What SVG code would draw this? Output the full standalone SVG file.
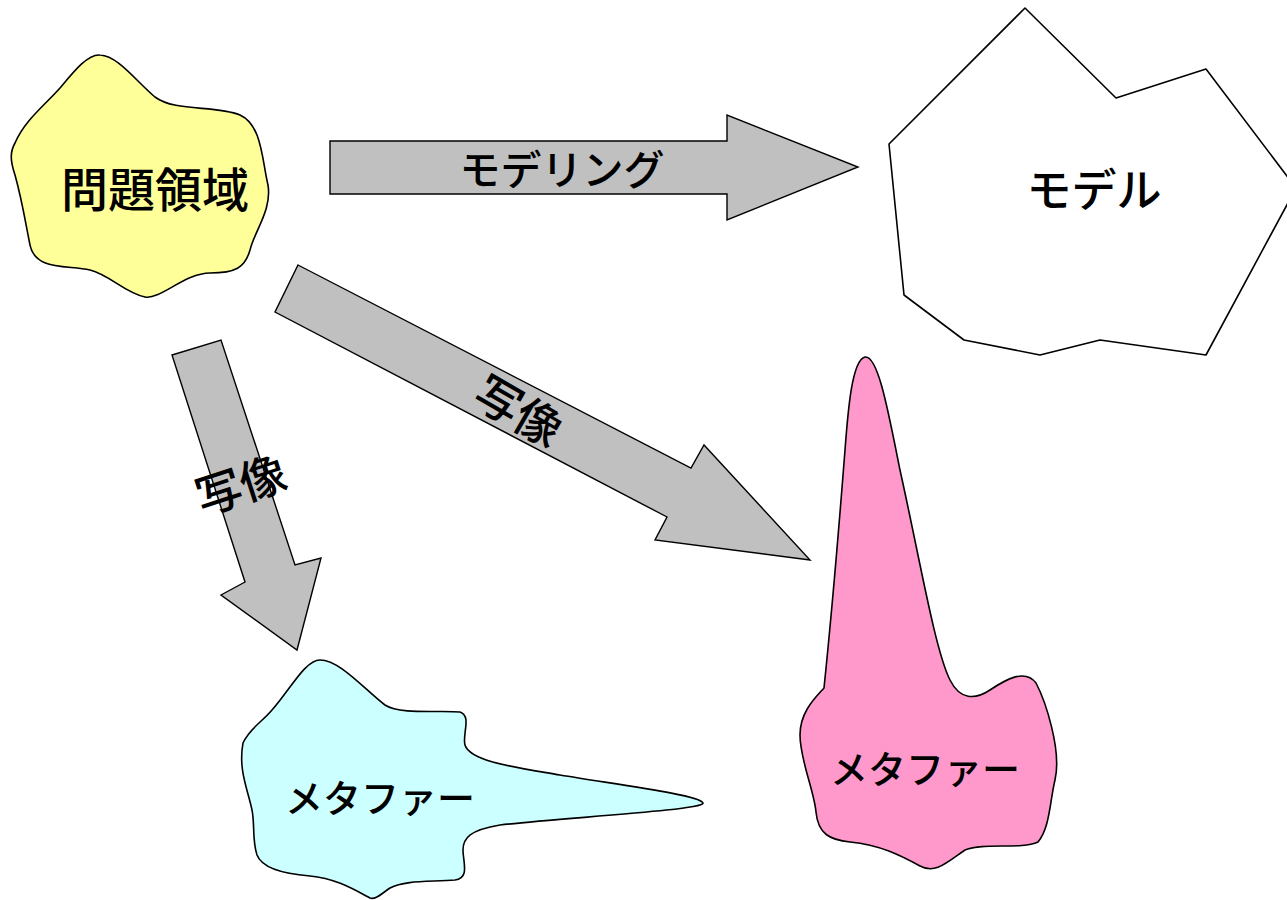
<svg xmlns="http://www.w3.org/2000/svg" width="1287" height="900" viewBox="0 0 1287 900">
<style>
.shape{stroke:#000;stroke-width:1.6;stroke-linejoin:round}
.arrow{fill:#C0C0C0;stroke:#000;stroke-width:1.4;stroke-linejoin:miter}
.t{font-family:"Noto Sans CJK JP","Noto Sans CJK SC",sans-serif;fill:#000;text-anchor:middle;font-weight:500}
</style>
<rect width="1287" height="900" fill="#fff"/>
<g id="connectors">
<g id="arrow-modeling">
<polygon class="arrow" points="330,141 727,141 727,115 858,167 727,220 727,194 330,194"/>
<text class="t" x="562" y="185" font-size="41">モデリング</text>
</g>
<g id="arrow-mapping-right">
<polygon class="arrow" points="298,265 691,468 704,445 810,560 655,540 667,517 275,312"/>
<text class="t" transform="translate(518,412) rotate(30)" x="0" y="16" font-size="46">写像</text>
</g>
<g id="arrow-mapping-down">
<polygon class="arrow" points="172,355 221,340 295,565 321,558 297,650 221,595 245,582"/>
<text class="t" transform="translate(241,486) rotate(-18)" x="0" y="16" font-size="46">写像</text>
</g>
</g>
<g id="node-problem">
<path class="shape" fill="#FFFF99" d="M 15,143 C 25,120 45,105 60,88 C 75,70 88,54 100,55 C 118,56 135,80 155,97 C 175,112 215,105 240,115 C 262,125 262,160 268,185 C 272,210 255,230 250,250 C 245,268 235,273 210,273 C 185,273 160,300 145,297 C 125,293 110,275 90,270 C 65,265 35,270 30,245 C 25,220 22,200 15,175 C 10,160 10,152 15,143 Z"/>
<text class="t" x="155" y="207" font-size="47">問題領域</text>
</g>
<g id="node-model">
<polygon class="shape" fill="#fff" points="1025,8 1116,98 1206,69 1296,188 1206,355 1100,340 1040,355 964,340 904,295 889,144"/>
<text class="t" x="1094" y="207" font-size="45">モデル</text>
</g>
<g id="node-metaphor-cyan">
<path class="shape" fill="#CCFFFF" d="M 243,743 C 250,728 262,722 272,710 C 290,690 305,660 320,660 C 340,660 365,690 385,705 C 400,715 440,710 460,712 C 472,716 462,735 465,745 C 470,762 520,768 560,775 C 620,785 700,795 703,803 C 705,810 560,818 500,825 C 470,830 463,838 463,850 C 463,862 470,878 455,880 C 430,882 405,880 390,888 C 380,895 375,900 370,898 C 355,890 335,878 310,876 C 285,874 262,868 257,855 C 252,840 255,825 252,810 C 248,790 238,770 243,743 Z"/>
<text class="t" x="380" y="812" font-size="38">メタファー</text>
</g>
<g id="node-metaphor-pink">
<path class="shape" fill="#FF99CC" d="M 865,357 C 852,360 848,410 845,450 C 838,540 830,630 824,688 C 815,698 800,712 800,735 C 800,760 814,790 816,812 C 818,834 830,840 850,842 C 880,845 900,855 920,866 C 935,874 945,864 965,850 C 985,842 1020,850 1038,842 C 1050,828 1050,800 1055,780 C 1062,750 1045,700 1036,683 C 1025,668 1005,680 990,690 C 975,700 960,700 950,680 C 935,650 920,560 900,470 C 888,410 878,355 865,357 Z"/>
<text class="t" x="925" y="783" font-size="38">メタファー</text>
</g>
</svg>
